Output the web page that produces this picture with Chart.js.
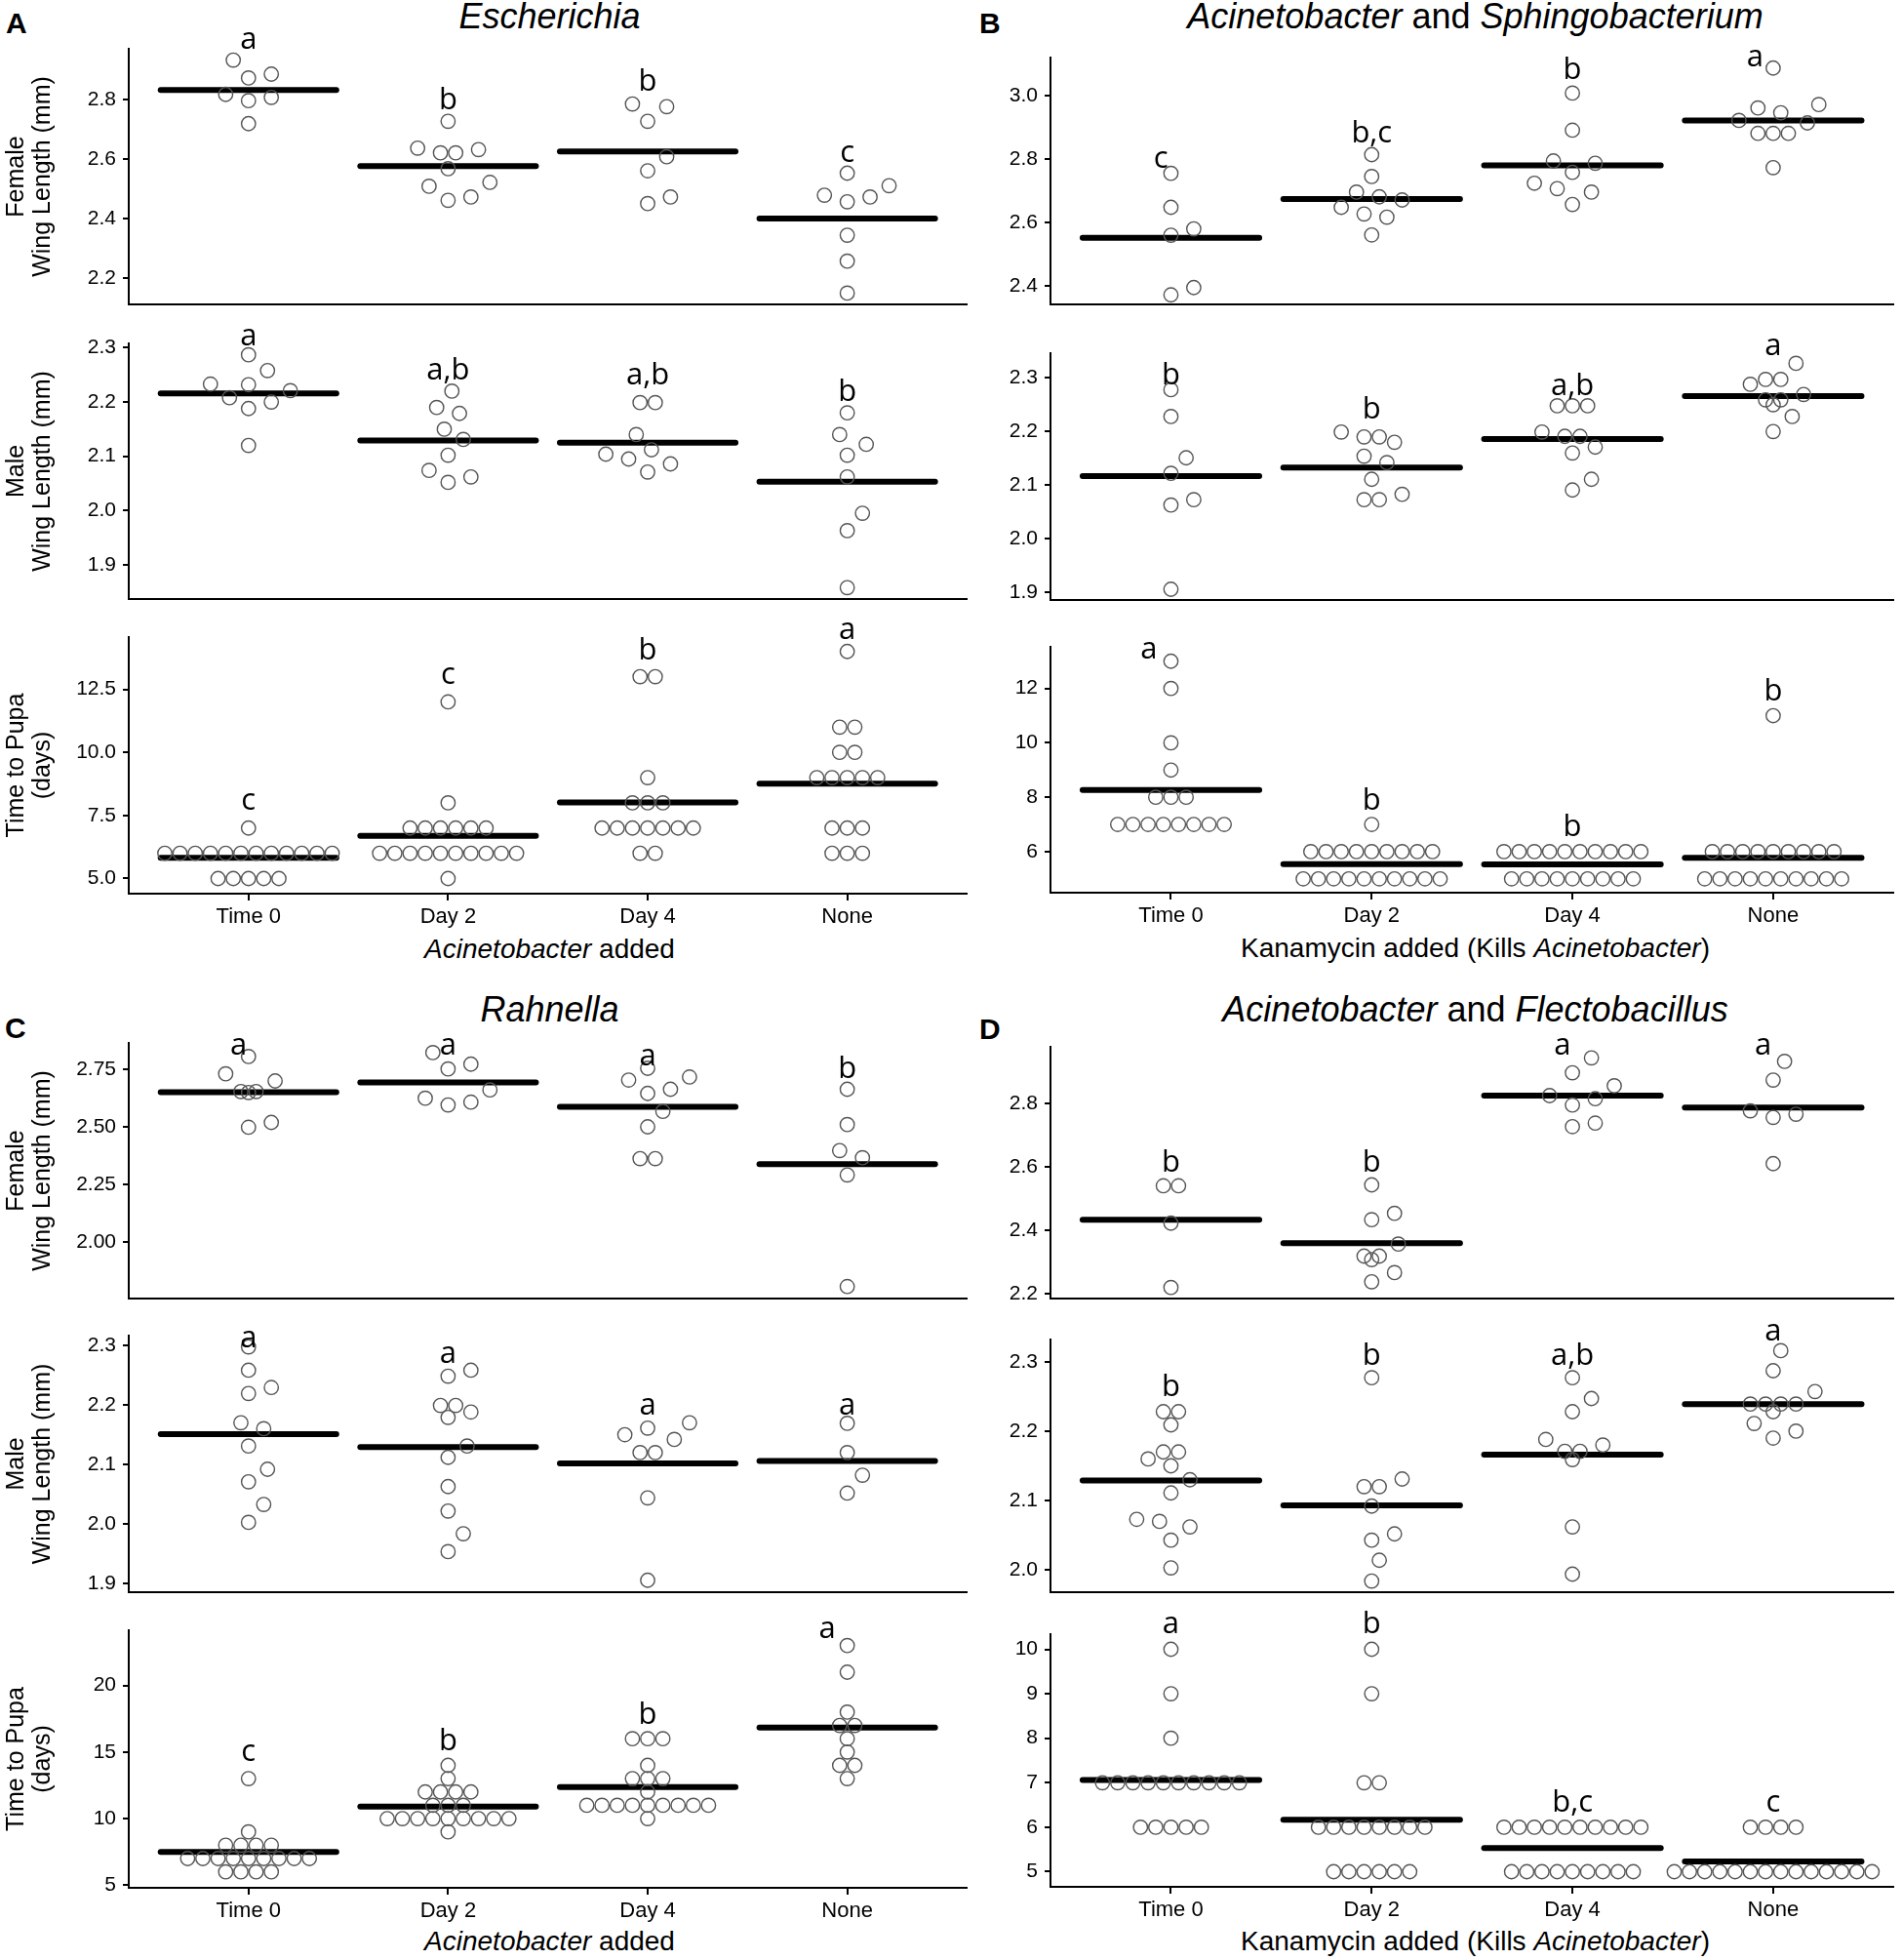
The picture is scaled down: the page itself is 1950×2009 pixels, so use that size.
<!DOCTYPE html>
<html lang="en">
<head>
<meta charset="UTF-8">
<title>Wing length and time to pupa</title>
<script src="https://cdn.jsdelivr.net/npm/chart.js"></script>
<style>
  body { margin: 0; background: #fff; }
  #fig { position: relative; width: 1950px; height: 2009px; overflow: hidden;
         font-family: "Liberation Sans", Arial, sans-serif; color: #000; }
  #fig canvas { position: absolute; }
  .tag { position: absolute; font-weight: bold; font-size: 30px; line-height: 1; }
  .ttl { position: absolute; text-align: center; font-size: 36px; line-height: 1; white-space: nowrap; }
  .xt  { position: absolute; text-align: center; font-size: 28px; line-height: 1; white-space: nowrap; }
</style>
</head>
<body>
<div id="fig">
  <div class="tag" style="left:6px;top:9px">A</div>
  <div class="tag" style="left:1004px;top:9px">B</div>
  <div class="tag" style="left:5px;top:1039px">C</div>
  <div class="tag" style="left:1004px;top:1040px">D</div>

  <div class="ttl" style="left:132px;top:-1px;width:863px"><i>Escherichia</i></div>
  <div class="ttl" style="left:1077px;top:-1px;width:871px"><i>Acinetobacter</i> and <i>Sphingobacterium</i></div>
  <div class="ttl" style="left:132px;top:1017px;width:863px"><i>Rahnella</i></div>
  <div class="ttl" style="left:1077px;top:1017px;width:871px"><i>Acinetobacter</i> and <i>Flectobacillus</i></div>

  <div class="xt" style="left:132px;top:959px;width:863px"><i>Acinetobacter</i> added</div>
  <div class="xt" style="left:1077px;top:958px;width:871px">Kanamycin added (Kills <i>Acinetobacter</i>)</div>
  <div class="xt" style="left:132px;top:1976px;width:863px"><i>Acinetobacter</i> added</div>
  <div class="xt" style="left:1077px;top:1976px;width:871px">Kanamycin added (Kills <i>Acinetobacter</i>)</div>
</div>

<script>
// groups on every x axis
const groups = ['Time 0', 'Day 2', 'Day 4', 'None'];

// ---- A: Escherichia ----
const escFemale = [
  [2.932, 2.817, 2.796, 2.885, 2.872, 2.807, 2.719],
  [2.727, 2.637, 2.621, 2.632, 2.568, 2.621, 2.522, 2.462, 2.473, 2.509],
  [2.785, 2.776, 2.727, 2.608, 2.561, 2.473, 2.451],
  [2.553, 2.511, 2.479, 2.457, 2.473, 2.345, 2.258, 2.151]
];
const escFemaleMean = [2.832, 2.577, 2.626, 2.401];
const escFemaleLetters = ['a', 'b', 'b', 'c'];
const escFemaleLetterY = [2.970, 2.768, 2.828, 2.591];
const escFemaleRange = [2.113, 2.970];
const escFemaleTicks = ['2.2', '2.4', '2.6', '2.8'];

const escMale = [
  [2.287, 2.258, 2.233, 2.232, 2.221, 2.200, 2.188, 2.208, 2.120],
  [2.220, 2.190, 2.179, 2.150, 2.131, 2.102, 2.074, 2.062, 2.052],
  [2.199, 2.199, 2.140, 2.112, 2.104, 2.095, 2.086, 2.071],
  [2.180, 2.140, 2.122, 2.102, 2.062, 1.995, 1.963, 1.858]
];
const escMaleMean = [2.216, 2.129, 2.125, 2.053];
const escMaleLetters = ['a', 'a,b', 'a,b', 'b'];
const escMaleLetterY = [2.305, 2.242, 2.233, 2.202];
const escMaleRange = [1.837, 2.308];
const escMaleTicks = ['1.9', '2.0', '2.1', '2.2', '2.3'];

const escPupa = [
  [7, 6, 6, 6, 6, 6, 6, 6, 6, 6, 6, 6, 6, 5, 5, 5, 5, 5],
  [12, 8, 7, 7, 7, 7, 7, 7, 6, 6, 6, 6, 6, 6, 6, 6, 6, 6, 5],
  [13, 13, 9, 8, 8, 8, 7, 7, 7, 7, 7, 7, 7, 6, 6],
  [14, 11, 11, 10, 10, 9, 9, 9, 9, 9, 7, 7, 7, 6, 6, 6]
];
const escPupaMean = [5.82, 6.69, 8.02, 8.76];
const escPupaLetters = ['c', 'c', 'b', 'a'];
const escPupaLetterY = [7.73, 12.73, 13.67, 14.5];
const escPupaRange = [4.40, 14.57];
const escPupaTicks = ['5.0', '7.5', '10.0', '12.5'];

// ---- B: Acinetobacter and Sphingobacterium ----
const sphFemale = [
  [2.756, 2.649, 2.581, 2.561, 2.373, 2.396],
  [2.815, 2.746, 2.697, 2.682, 2.672, 2.649, 2.618, 2.628, 2.562],
  [3.009, 2.892, 2.795, 2.788, 2.759, 2.725, 2.708, 2.697, 2.658],
  [3.088, 2.973, 2.962, 2.947, 2.923, 2.915, 2.882, 2.882, 2.882, 2.774]
];
const sphFemaleMean = [2.553, 2.675, 2.781, 2.923];
const sphFemaleLetters = ['c', 'b,c', 'b', 'a'];
const sphFemaleLetterY = [2.774, 2.854, 3.052, 3.093];
const sphFemaleLetterDx = [-0.05, 0, 0, -0.09];
const sphFemaleRange = [2.343, 3.121];
const sphFemaleTicks = ['2.4', '2.6', '2.8', '3.0'];

const sphMale = [
  [2.277, 2.227, 2.150, 2.121, 2.072, 2.062, 1.905],
  [2.179, 2.189, 2.189, 2.198, 2.153, 2.141, 2.110, 2.072, 2.072, 2.082],
  [2.198, 2.159, 2.170, 2.190, 2.190, 2.247, 2.247, 2.247, 2.110, 2.090],
  [2.326, 2.296, 2.296, 2.287, 2.268, 2.258, 2.258, 2.249, 2.227, 2.199]
];
const sphMaleMean = [2.116, 2.132, 2.185, 2.265];
const sphMaleLetters = ['b', 'b', 'a,b', 'a'];
const sphMaleLetterY = [2.286, 2.223, 2.267, 2.342];
const sphMaleRange = [1.885, 2.345];
const sphMaleTicks = ['1.9', '2.0', '2.1', '2.2', '2.3'];

const sphPupa = [
  [13, 12, 10, 9, 8, 8, 8, 7, 7, 7, 7, 7, 7, 7, 7],
  [7, 6, 6, 6, 6, 6, 6, 6, 6, 6, 5, 5, 5, 5, 5, 5, 5, 5, 5, 5],
  [6, 6, 6, 6, 6, 6, 6, 6, 6, 6, 5, 5, 5, 5, 5, 5, 5, 5, 5],
  [11, 6, 6, 6, 6, 6, 6, 6, 6, 6, 5, 5, 5, 5, 5, 5, 5, 5, 5, 5]
];
const sphPupaMean = [8.27, 5.54, 5.53, 5.77];
const sphPupaLetters = ['a', 'b', 'b', 'b'];
const sphPupaLetterY = [13.09, 7.53, 6.58, 11.54];
const sphPupaLetterDx = [-0.11, 0, 0, 0];
const sphPupaRange = [4.49, 13.53];
const sphPupaTicks = ['6', '8', '10', '12'];

// ---- C: Rahnella ----
const rahFemale = [
  [2.806, 2.731, 2.700, 2.654, 2.654, 2.650, 2.520, 2.499],
  [2.823, 2.773, 2.752, 2.661, 2.625, 2.608, 2.596],
  [2.755, 2.717, 2.704, 2.664, 2.646, 2.568, 2.501, 2.363, 2.363],
  [2.664, 2.511, 2.398, 2.367, 2.292, 1.808]
];
const rahFemaleMean = [2.651, 2.694, 2.588, 2.339];
const rahFemaleLetters = ['a', 'a', 'a', 'b'];
const rahFemaleLetterY = [2.813, 2.813, 2.766, 2.714];
const rahFemaleLetterDx = [-0.05, 0, 0, 0];
const rahFemaleRange = [1.756, 2.865];
const rahFemaleTicks = ['2.00', '2.25', '2.50', '2.75'];

const rahMale = [
  [2.297, 2.258, 2.229, 2.219, 2.170, 2.160, 2.131, 2.092, 2.071, 2.033, 2.003],
  [2.258, 2.248, 2.199, 2.179, 2.199, 2.188, 2.131, 2.112, 2.063, 2.022, 1.984, 1.954],
  [2.170, 2.161, 2.142, 2.150, 2.120, 2.120, 2.044, 1.906],
  [2.169, 2.120, 2.082, 2.052]
];
const rahMaleMean = [2.151, 2.129, 2.102, 2.106];
const rahMaleLetters = ['a', 'a', 'a', 'a'];
const rahMaleLetterY = [2.296, 2.271, 2.184, 2.184];
const rahMaleRange = [1.886, 2.316];
const rahMaleTicks = ['1.9', '2.0', '2.1', '2.2', '2.3'];

const rahPupa = [
  [13, 9, 8, 8, 8, 8, 7, 7, 7, 7, 7, 7, 7, 7, 7, 6, 6, 6, 6],
  [14, 13, 12, 12, 12, 12, 11, 11, 11, 10, 10, 10, 10, 10, 10, 10, 10, 10, 9],
  [16, 16, 16, 14, 13, 13, 13, 12, 11, 11, 11, 11, 11, 11, 11, 11, 11, 10],
  [23, 21, 18, 17, 17, 16, 15, 14, 14, 13]
];
const rahPupaMean = [7.49, 10.9, 12.37, 16.83];
const rahPupaLetters = ['c', 'b', 'b', 'a'];
const rahPupaLetterY = [14.3, 15.1, 17.1, 23.6];
const rahPupaLetterDx = [0, 0, 0, -0.10];
const rahPupaRange = [4.80, 24.15];
const rahPupaTicks = ['5', '10', '15', '20'];

// ---- D: Acinetobacter and Flectobacillus ----
const flecFemale = [
  [2.540, 2.540, 2.422, 2.219],
  [2.543, 2.453, 2.433, 2.356, 2.307, 2.318, 2.318, 2.266, 2.237],
  [2.944, 2.897, 2.856, 2.815, 2.795, 2.825, 2.738, 2.727],
  [2.933, 2.874, 2.777, 2.766, 2.756, 2.610]
];
const flecFemaleMean = [2.433, 2.359, 2.825, 2.787];
const flecFemaleLetters = ['b', 'b', 'a', 'a'];
const flecFemaleLetterY = [2.584, 2.584, 2.953, 2.953];
const flecFemaleLetterDx = [0, 0, -0.05, -0.05];
const flecFemaleRange = [2.184, 2.979];
const flecFemaleTicks = ['2.2', '2.4', '2.6', '2.8'];

const flecMale = [
  [2.228, 2.228, 2.209, 2.170, 2.170, 2.160, 2.150, 2.130, 2.111, 2.062, 2.073, 2.070, 2.043, 2.003],
  [2.277, 2.120, 2.131, 2.120, 2.092, 2.052, 2.043, 2.014, 1.984],
  [2.277, 2.247, 2.228, 2.188, 2.180, 2.171, 2.171, 2.159, 2.062, 1.994],
  [2.316, 2.287, 2.257, 2.239, 2.239, 2.239, 2.239, 2.228, 2.211, 2.200, 2.190]
];
const flecMaleMean = [2.129, 2.093, 2.166, 2.239];
const flecMaleLetters = ['b', 'b', 'a,b', 'a'];
const flecMaleLetterY = [2.251, 2.296, 2.296, 2.330];
const flecMaleRange = [1.968, 2.332];
const flecMaleTicks = ['2.0', '2.1', '2.2', '2.3'];

const flecPupa = [
  [10, 9, 8, 7, 7, 7, 7, 7, 7, 7, 7, 7, 7, 6, 6, 6, 6, 6],
  [10, 9, 7, 7, 6, 6, 6, 6, 6, 6, 6, 6, 5, 5, 5, 5, 5, 5],
  [6, 6, 6, 6, 6, 6, 6, 6, 6, 6, 5, 5, 5, 5, 5, 5, 5, 5, 5],
  [6, 6, 6, 6, 5, 5, 5, 5, 5, 5, 5, 5, 5, 5, 5, 5, 5, 5]
];
const flecPupaMean = [7.06, 6.17, 5.53, 5.23];
const flecPupaLetters = ['a', 'b', 'b,c', 'c'];
const flecPupaLetterY = [10.36, 10.36, 6.34, 6.34];
const flecPupaRange = [4.66, 10.34];
const flecPupaTicks = ['5', '6', '7', '8', '9', '10'];

const femaleTitle = ['Female', 'Wing Length (mm)'];
const maleTitle = ['Male', 'Wing Length (mm)'];
const pupaTitle = ['Time to Pupa', '(days)'];

// layout of the twelve panels (plot area top / bottom in page pixels)
const panels = [
  {side: 'L', top: 50,   bottom: 312,  vals: escFemale,  mean: escFemaleMean,  let: escFemaleLetters,  letY: escFemaleLetterY,  range: escFemaleRange,  ticks: escFemaleTicks,  title: femaleTitle, pupa: false},
  {side: 'L', top: 352,  bottom: 614,  vals: escMale,    mean: escMaleMean,    let: escMaleLetters,    letY: escMaleLetterY,    range: escMaleRange,    ticks: escMaleTicks,    title: maleTitle,   pupa: false},
  {side: 'L', top: 653,  bottom: 916,  vals: escPupa,    mean: escPupaMean,    let: escPupaLetters,    letY: escPupaLetterY,    range: escPupaRange,    ticks: escPupaTicks,    title: pupaTitle,   pupa: true},
  {side: 'R', top: 59,   bottom: 312,  vals: sphFemale,  mean: sphFemaleMean,  let: sphFemaleLetters,  letY: sphFemaleLetterY,  letDx: sphFemaleLetterDx, range: sphFemaleRange, ticks: sphFemaleTicks, pupa: false},
  {side: 'R', top: 362,  bottom: 615,  vals: sphMale,    mean: sphMaleMean,    let: sphMaleLetters,    letY: sphMaleLetterY,    range: sphMaleRange,    ticks: sphMaleTicks,    pupa: false},
  {side: 'R', top: 663,  bottom: 915,  vals: sphPupa,    mean: sphPupaMean,    let: sphPupaLetters,    letY: sphPupaLetterY,    letDx: sphPupaLetterDx, range: sphPupaRange,   ticks: sphPupaTicks,   pupa: true},
  {side: 'L', top: 1069, bottom: 1331, vals: rahFemale,  mean: rahFemaleMean,  let: rahFemaleLetters,  letY: rahFemaleLetterY,  letDx: rahFemaleLetterDx, range: rahFemaleRange, ticks: rahFemaleTicks, title: femaleTitle, pupa: false},
  {side: 'L', top: 1369, bottom: 1632, vals: rahMale,    mean: rahMaleMean,    let: rahMaleLetters,    letY: rahMaleLetterY,    range: rahMaleRange,    ticks: rahMaleTicks,    title: maleTitle,   pupa: false},
  {side: 'L', top: 1671, bottom: 1935, vals: rahPupa,    mean: rahPupaMean,    let: rahPupaLetters,    letY: rahPupaLetterY,    letDx: rahPupaLetterDx, range: rahPupaRange,   ticks: rahPupaTicks,   title: pupaTitle,   pupa: true},
  {side: 'R', top: 1073, bottom: 1331, vals: flecFemale, mean: flecFemaleMean, let: flecFemaleLetters, letY: flecFemaleLetterY, letDx: flecFemaleLetterDx, range: flecFemaleRange, ticks: flecFemaleTicks, pupa: false},
  {side: 'R', top: 1373, bottom: 1632, vals: flecMale,   mean: flecMaleMean,   let: flecMaleLetters,   letY: flecMaleLetterY,   range: flecMaleRange,   ticks: flecMaleTicks,   pupa: false},
  {side: 'R', top: 1675, bottom: 1934, vals: flecPupa,   mean: flecPupaMean,   let: flecPupaLetters,   letY: flecPupaLetterY,   range: flecPupaRange,   ticks: flecPupaTicks,   pupa: true}
];

const PAD_TOP = 44, PAD_BOTTOM = 20;
const DOT_R = 7.2, DOT_GAP = 15.6, SWARM_GAP = 22;

// significance letters above each group
const letterPlugin = {
  id: 'letters',
  afterDatasetsDraw(chart, args, opts) {
    const {ctx, scales: {x, y}} = chart;
    ctx.save();
    ctx.font = '31px "Open Sans"';
    ctx.fillStyle = '#000';
    ctx.textAlign = 'center';
    ctx.textBaseline = 'alphabetic';
    opts.text.forEach((t, i) => {
      const dx = opts.dx ? opts.dx[i] : 0;
      ctx.fillText(t, x.getPixelForValue(i + 1 + dx), y.getPixelForValue(opts.y[i]));
    });
    ctx.restore();
  }
};

// beeswarm offsets (in x units) for one group, worked out in pixels
function swarm(vals, pxY, pxX, greedy) {
  const order = vals.map((v, i) => i).sort((a, b) => vals[a] - vals[b]);
  const out = new Array(vals.length).fill(0);
  const placed = [];
  let i = 0;
  while (i < order.length) {
    let j = i;
    while (j + 1 < order.length && vals[order[j + 1]] === vals[order[i]]) j++;
    const n = j - i + 1;
    const py = vals[order[i]] * pxY;
    if (n > 1 || !greedy) {
      for (let k = 0; k < n; k++) {
        const px = (k - (n - 1) / 2) * DOT_GAP;
        out[order[i + k]] = px / pxX;
        placed.push([px, py]);
      }
    } else {
      let px = 0;
      for (let s = 0; s < 400; s++) {
        const c = (s % 2 ? 1 : -1) * Math.ceil(s / 2) * DOT_GAP / 4;
        if (placed.every(p => Math.hypot(c - p[0], py - p[1]) >= SWARM_GAP)) { px = c; break; }
      }
      out[order[i]] = px / pxX;
      placed.push([px, py]);
    }
    i = j + 1;
  }
  return out;
}

const fig = document.getElementById('fig');

panels.forEach(p => {
  const left = p.side === 'L' ? 0 : 1000;
  const width = p.side === 'L' ? 1000 : 950;
  const yW = p.side === 'L' ? 132 : 77;
  const padRight = p.side === 'L' ? 5 : 2;
  const xH = p.pupa ? 60 : 2;
  const height = PAD_TOP + (p.bottom - p.top) + xH + PAD_BOTTOM;

  const cv = document.createElement('canvas');
  cv.width = width;
  cv.height = height;
  cv.style.left = left + 'px';
  cv.style.top = (p.top - PAD_TOP) + 'px';
  cv.style.width = width + 'px';
  cv.style.height = height + 'px';
  fig.appendChild(cv);

  const points = [];
  p.vals.forEach((g, gi) => g.forEach(v => points.push({x: gi + 1, y: v})));

  const datasets = [{
    type: 'scatter',
    data: points,
    order: 1,
    showLine: false,
    pointRadius: DOT_R,
    pointBorderWidth: 1.4,
    pointBorderColor: '#555',
    pointBackgroundColor: 'rgba(0,0,0,0)',
    clip: false
  }];
  p.mean.forEach((m, gi) => datasets.push({
    type: 'line',
    data: [{x: gi + 1 - 0.44, y: m}, {x: gi + 1 + 0.44, y: m}],
    order: 2,
    borderColor: '#000',
    borderWidth: 6,
    borderCapStyle: 'round',
    pointRadius: 0,
    clip: false
  }));

  const chart = new Chart(cv, {
    type: 'scatter',
    data: {datasets},
    plugins: [letterPlugin],
    options: {
      responsive: false,
      animation: false,
      events: [],
      layout: {padding: {top: PAD_TOP, right: padRight, bottom: PAD_BOTTOM, left: 0}},
      plugins: {
        legend: {display: false},
        tooltip: {enabled: false},
        letters: {text: p.let, y: p.letY, dx: p.letDx}
      },
      scales: {
        x: {
          type: 'linear', min: 0.4, max: 4.6,
          afterBuildTicks: s => { s.ticks = groups.map((g, i) => ({value: i + 1})); },
          afterFit: s => { s.height = xH; s.paddingLeft = 0; s.paddingRight = 0; },
          border: {display: true, color: '#000', width: 2},
          grid: {display: true, drawOnChartArea: false, drawTicks: p.pupa, tickLength: 7, color: '#000', lineWidth: 2},
          ticks: {display: p.pupa, color: '#000', font: {size: 22, family: '"Liberation Sans", Arial'},
                  padding: 4, maxRotation: 0, autoSkip: false, callback: (v, i) => groups[i]}
        },
        y: {
          type: 'linear', min: p.range[0], max: p.range[1],
          afterBuildTicks: s => { s.ticks = p.ticks.map(t => ({value: parseFloat(t)})); },
          afterFit: s => { s.width = yW; s.paddingTop = 0; s.paddingBottom = 0; },
          border: {display: true, color: '#000', width: 2},
          grid: {display: true, drawOnChartArea: false, drawTicks: true, tickLength: 6, color: '#000', lineWidth: 2},
          ticks: {color: '#000', font: {size: 21, family: '"Liberation Sans", Arial'}, padding: 7,
                  callback: (v, i) => p.ticks[i]},
          title: p.title ? {display: true, text: p.title, color: '#000',
                            font: {size: 25, family: '"Liberation Sans", Arial', lineHeight: 1.1},
                            padding: {top: 3, bottom: 0}} : {display: false}
        }
      }
    }
  });

  // spread the dots now that the scales are known
  const pxY = Math.abs(chart.scales.y.getPixelForValue(1) - chart.scales.y.getPixelForValue(0));
  const pxX = Math.abs(chart.scales.x.getPixelForValue(1) - chart.scales.x.getPixelForValue(0));
  const spread = [];
  p.vals.forEach((g, gi) => {
    const off = swarm(g, pxY, pxX, !p.pupa);
    g.forEach((v, k) => spread.push({x: gi + 1 + off[k], y: v}));
  });
  chart.data.datasets[0].data = spread;
  chart.update('none');
});
</script>
</body>
</html>
